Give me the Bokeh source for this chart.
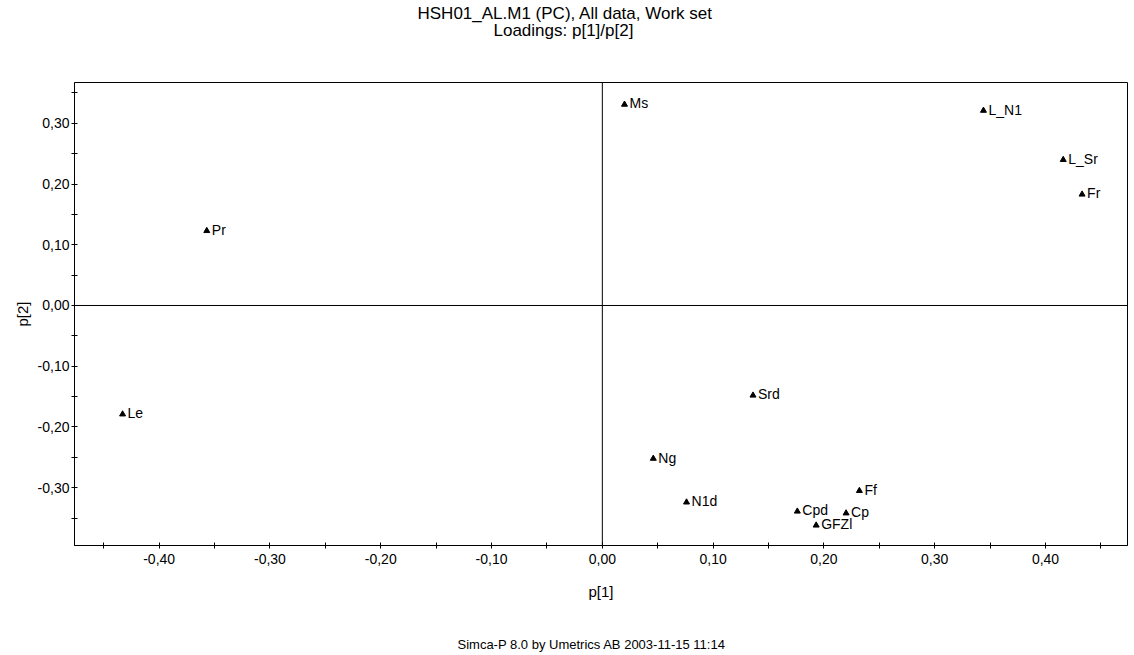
from bokeh.plotting import figure
from bokeh.models import (Range1d, FixedTicker, CustomJSTickFormatter, Span, Title,
                          ColumnDataSource)
from bokeh.core.properties import value
from bokeh.embed import file_html
from bokeh.resources import INLINE

# ---- data ----
names = ["Ms", "L_N1", "L_Sr", "Fr", "Pr", "Le", "Srd", "Ng", "N1d", "Cpd", "GFZl", "Cp", "Ff"]
p1 = [0.020, 0.344, 0.416, 0.433, -0.357, -0.433, 0.136, 0.046, 0.076, 0.176, 0.193, 0.220, 0.232]
p2 = [0.331, 0.321, 0.240, 0.183, 0.123, -0.179, -0.148, -0.252, -0.324, -0.339, -0.362, -0.342, -0.305]

x_major = [-0.4, -0.3, -0.2, -0.1, 0.0, 0.1, 0.2, 0.3, 0.4]
x_minor = [-0.45, -0.35, -0.25, -0.15, -0.05, 0.05, 0.15, 0.25, 0.35, 0.45]
y_major = [-0.3, -0.2, -0.1, 0.0, 0.1, 0.2, 0.3]
y_minor = [-0.35, -0.25, -0.15, -0.05, 0.05, 0.15, 0.25, 0.35]

title1 = "HSH01_AL.M1 (PC), All data, Work set"
title2 = "Loadings: p[1]/p[2]"
footer = "Simca-P 8.0 by Umetrics AB 2003-11-15 11:14"
xlabel = "p[1]"
ylabel = "p[2]"

FONT = "Liberation Sans"

p = figure(width=1134, height=655, output_backend="svg", toolbar_location=None,
           x_range=Range1d(-0.4764, 0.474), y_range=Range1d(-0.3952, 0.3672),
           min_border_left=74, min_border_right=7, min_border_top=82, min_border_bottom=110)
p.background_fill_color = "white"
p.border_fill_color = "white"
p.outline_line_color = "black"
p.outline_line_width = 1
p.xgrid.visible = False
p.ygrid.visible = False

fmt = CustomJSTickFormatter(code="var s = tick.toFixed(2).replace('.', ','); if (s == '-0,00') s = '0,00'; return s;")

for ax, maj, mnr in ((p.xaxis[0], x_major, x_minor), (p.yaxis[0], y_major, y_minor)):
    ax.ticker = FixedTicker(ticks=maj, minor_ticks=mnr)
    ax.formatter = fmt
    ax.major_tick_in = 3
    ax.major_tick_out = 3
    ax.minor_tick_in = 3
    ax.minor_tick_out = 3
    ax.axis_line_color = "black"
    ax.major_tick_line_color = "black"
    ax.minor_tick_line_color = "black"
    ax.major_label_text_font = FONT
    ax.major_label_text_font_size = "14px"
    ax.major_label_text_color = "black"
    ax.axis_label_text_font = FONT
    ax.axis_label_text_font_size = "15px"
    ax.axis_label_text_font_style = "normal"
    ax.axis_label_text_color = "black"

p.xaxis.axis_label = xlabel
p.yaxis.axis_label = ylabel
p.xaxis.major_label_standoff = 5
p.xaxis.axis_label_standoff = 16
p.yaxis.major_label_standoff = 2
p.yaxis.axis_label_standoff = 4

p.add_layout(Span(location=0, dimension="width", line_color="black", line_width=1))
p.add_layout(Span(location=0, dimension="height", line_color="black", line_width=1))

src = ColumnDataSource(dict(x=p1, y=p2, name=names))
p.scatter("x", "y", source=src, marker="triangle", size=6, fill_color="black", line_color="black")
p.text("x", "y", text="name", source=src, x_offset=5, y_offset=-1,
       text_font=value(FONT), text_font_size="14px", text_baseline="middle",
       text_align="left", text_color="black")

# ---- titles above (first added = nearest to the frame) ----
p.add_layout(Title(text=" ", text_font_size="10px", standoff=33), "above")
p.add_layout(Title(text=title2, align="left", offset=419, vertical_align="top", standoff=-10,
                   text_font=FONT, text_font_size="17px", text_font_style="normal",
                   text_color="black"), "above")
p.add_layout(Title(text=title1, align="left", offset=343, vertical_align="middle", standoff=4,
                   text_font=FONT, text_font_size="17px", text_font_style="normal",
                   text_color="black"), "above")

# ---- footer below ----
p.add_layout(Title(text=" ", text_font_size="10px", standoff=21), "below")
p.add_layout(Title(text=footer, align="left", offset=383, vertical_align="top", standoff=0,
                   text_font=FONT, text_font_size="13px", text_font_style="normal",
                   text_color="black"), "below")

open("out.html", "w").write(file_html(p, INLINE))
